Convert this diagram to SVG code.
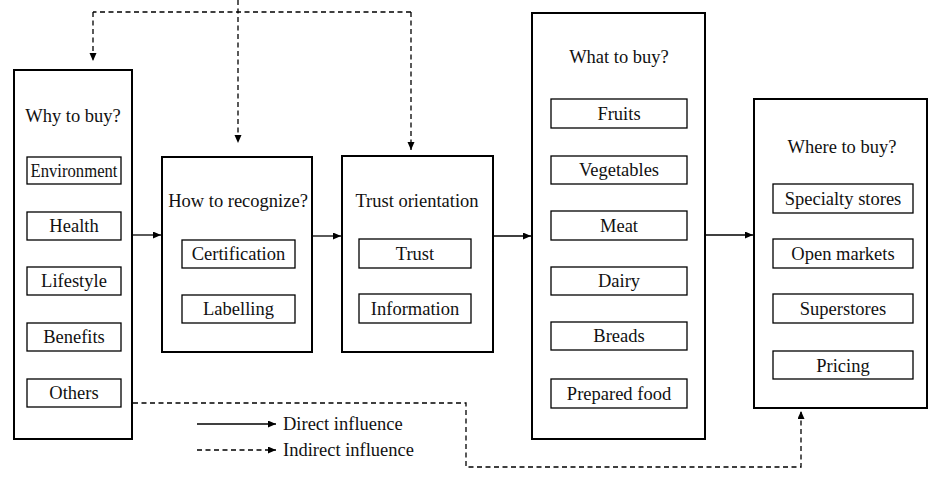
<svg xmlns="http://www.w3.org/2000/svg" width="929" height="487" viewBox="0 0 929 487" font-family="'Liberation Serif', 'Times New Roman', Times, 'DejaVu Serif', serif">
<style>
.outer{fill:#fff;stroke:#000;stroke-width:2}
.inner{fill:#fff;stroke:#000;stroke-width:1.3}
text{font-family:'Liberation Serif','Times New Roman',Times,'DejaVu Serif',serif;font-size:18.5px;fill:#111;text-anchor:middle}
.leg{text-anchor:start}
.solid{fill:none;stroke:#000;stroke-width:1.3}
.dash{fill:none;stroke:#000;stroke-width:1.3;stroke-dasharray:5 3.5}
</style>
<defs>
<marker id="ah" markerUnits="userSpaceOnUse" markerWidth="9" markerHeight="8" refX="8" refY="3.5" orient="auto">
<path d="M0,0 L8,3.5 L0,7 z" fill="#000"/>
</marker>
</defs>
<rect width="929" height="487" fill="#fff"/>
<g id="why">
<rect class="outer" x="14" y="70" width="118" height="369"/>
<text x="73" y="122">Why to buy?</text>
<rect class="inner" x="27" y="157" width="94" height="27"/>
<text x="74" y="177" textLength="87" lengthAdjust="spacingAndGlyphs">Environment</text>
<rect class="inner" x="27" y="212" width="94" height="28"/>
<text x="74" y="232">Health</text>
<rect class="inner" x="27" y="267" width="94" height="28"/>
<text x="74" y="287">Lifestyle</text>
<rect class="inner" x="27" y="323" width="94" height="28"/>
<text x="74" y="343">Benefits</text>
<rect class="inner" x="27" y="379" width="94" height="28"/>
<text x="74" y="399">Others</text>
</g>
<g id="how">
<rect class="outer" x="162" y="157" width="150" height="195"/>
<text x="238" y="207">How to recognize?</text>
<rect class="inner" x="182" y="240" width="113" height="28"/>
<text x="238.5" y="260">Certification</text>
<rect class="inner" x="182" y="295" width="113" height="28"/>
<text x="238.5" y="315">Labelling</text>
</g>
<g id="trust">
<rect class="outer" x="342" y="156" width="151" height="196"/>
<text x="417" y="207">Trust orientation</text>
<rect class="inner" x="359" y="239" width="112" height="29"/>
<text x="415" y="260">Trust</text>
<rect class="inner" x="359" y="294" width="112" height="29"/>
<text x="415" y="315">Information</text>
</g>
<g id="what">
<rect class="outer" x="532" y="13" width="173" height="426"/>
<text x="619" y="63">What to buy?</text>
<rect class="inner" x="551" y="99" width="136" height="29"/>
<text x="619" y="120">Fruits</text>
<rect class="inner" x="551" y="156" width="136" height="28"/>
<text x="619" y="176">Vegetables</text>
<rect class="inner" x="551" y="211" width="136" height="29"/>
<text x="619" y="232">Meat</text>
<rect class="inner" x="551" y="267" width="136" height="28"/>
<text x="619" y="287">Dairy</text>
<rect class="inner" x="551" y="322" width="136" height="28"/>
<text x="619" y="342">Breads</text>
<rect class="inner" x="551" y="379" width="136" height="29"/>
<text x="619" y="400">Prepared food</text>
</g>
<g id="where">
<rect class="outer" x="754" y="99" width="173" height="309"/>
<text x="842" y="153">Where to buy?</text>
<rect class="inner" x="773" y="184" width="140" height="29"/>
<text x="843" y="205">Specialty stores</text>
<rect class="inner" x="773" y="239" width="140" height="29"/>
<text x="843" y="260">Open markets</text>
<rect class="inner" x="773" y="294" width="140" height="29"/>
<text x="843" y="315">Superstores</text>
<rect class="inner" x="773" y="351" width="140" height="28"/>
<text x="843" y="372">Pricing</text>
</g>
<g id="connectors">
<polyline class="dash" points="411,12 93,12"/>
<line class="solid" x1="133" y1="235" x2="161" y2="235" marker-end="url(#ah)"/>
<line class="solid" x1="313" y1="236" x2="341" y2="236" marker-end="url(#ah)"/>
<line class="solid" x1="494" y1="236" x2="531" y2="236" marker-end="url(#ah)"/>
<line class="solid" x1="706" y1="235" x2="753" y2="235" marker-end="url(#ah)"/>
<line class="dash" x1="93" y1="12" x2="93" y2="61" marker-end="url(#ah)"/>
<line class="dash" x1="238" y1="0" x2="238" y2="143" marker-end="url(#ah)"/>
<line class="dash" x1="411" y1="12" x2="411" y2="150" marker-end="url(#ah)"/>
<polyline class="dash" points="133,403 466,403 466,467 801,467 801,411" marker-end="url(#ah)"/>
</g>
<g id="legend">
<line class="solid" x1="197" y1="424" x2="276" y2="424" marker-end="url(#ah)"/>
<text class="leg" x="283" y="430">Direct influence</text>
<line class="dash" x1="197" y1="450" x2="276" y2="450" marker-end="url(#ah)"/>
<text class="leg" x="283" y="456">Indirect influence</text>
</g>
</svg>
